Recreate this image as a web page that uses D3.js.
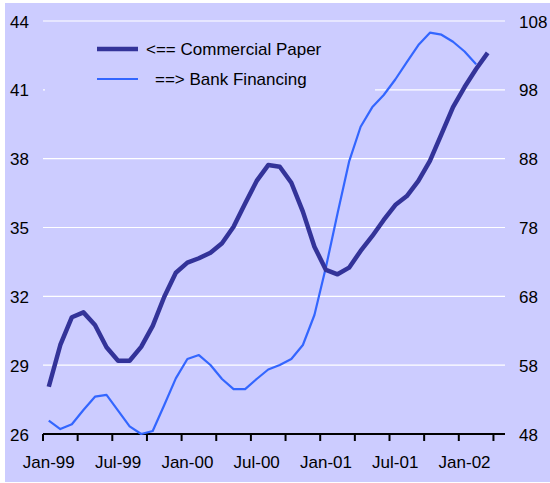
<!DOCTYPE html>
<html>
<head>
<meta charset="utf-8">
<script src="https://cdn.jsdelivr.net/npm/d3@7"></script>
<style>
  html, body { margin: 0; padding: 0; background: #ffffff; }
  svg { display: block; }
  text { font-family: "Liberation Sans", Arial, sans-serif; fill: #000; }
</style>
</head>
<body>
<svg id="chart" width="550" height="483"></svg>
<script>
// Monthly categories, Jan-99 through Apr-02
const months = [
  "Jan-99","Feb-99","Mar-99","Apr-99","May-99","Jun-99","Jul-99","Aug-99","Sep-99","Oct-99","Nov-99","Dec-99",
  "Jan-00","Feb-00","Mar-00","Apr-00","May-00","Jun-00","Jul-00","Aug-00","Sep-00","Oct-00","Nov-00","Dec-00",
  "Jan-01","Feb-01","Mar-01","Apr-01","May-01","Jun-01","Jul-01","Aug-01","Sep-01","Oct-01","Nov-01","Dec-01",
  "Jan-02","Feb-02","Mar-02","Apr-02"
];

// Commercial paper (left axis)
const commercialPaper = [
  28.06, 29.88, 31.09, 31.30, 30.75, 29.78, 29.19, 29.19, 29.80, 30.71, 31.98, 33.03,
  33.47, 33.66, 33.90, 34.31, 35.03, 36.05, 37.03, 37.72, 37.65, 36.95, 35.69, 34.16,
  33.15, 32.96, 33.25, 33.98, 34.62, 35.33, 35.98, 36.37, 37.03, 37.90, 39.07, 40.25,
  41.12, 41.91, 42.61
];

// Bank financing (right axis)
const bankFinancing = [
  49.93, 48.72, 49.41, 51.48, 53.42, 53.69, 51.40, 49.12, 48.00, 48.43, 52.21, 56.09,
  58.89, 59.47, 58.02, 55.99, 54.53, 54.53, 55.99, 57.37, 58.02, 58.89, 60.93, 65.29,
  72.26, 80.03, 87.56, 92.64, 95.46, 97.25, 99.50, 102.04, 104.51, 106.30, 106.01, 104.99,
  103.57, 101.71
];

const leftTicks = [26, 29, 32, 35, 38, 41, 44];
const rightTicks = [48, 58, 68, 78, 88, 98, 108];
const xLabels = ["Jan-99","Jul-99","Jan-00","Jul-00","Jan-01","Jul-01","Jan-02"];

const legendItems = [
  { label: "<== Commercial Paper", color: "#333399", width: 4.5, indent: 0 },
  { label: "==> Bank Financing", color: "#3366ff", width: 2.2, indent: 9 }
];

const svg = d3.select("#chart");
const plot = { left: 43, right: 505, top: 21, bottom: 434 };

// Panel background
svg.append("rect")
  .attr("x", 5).attr("y", 3).attr("width", 545).attr("height", 479)
  .attr("fill", "#ccccff");

const x = d3.scaleBand().domain(months).range([plot.left, plot.right]).paddingInner(0).paddingOuter(0);
const yL = d3.scaleLinear().domain([26, 44]).range([plot.bottom, plot.top]);
const yR = d3.scaleLinear().domain([48, 108]).range([plot.bottom, plot.top]);
const cx = m => x(m) + x.bandwidth() / 2;

// Horizontal gridlines
svg.append("g").selectAll("line")
  .data(leftTicks.filter(t => t !== 26))
  .join("line")
  .attr("x1", plot.left).attr("x2", plot.right)
  .attr("y1", d => yL(d)).attr("y2", d => yL(d))
  .attr("stroke", "#ffffff").attr("stroke-width", 1.2);

// Left axis labels
const leftAxis = d3.axisLeft(yL).tickValues(leftTicks).tickSize(0).tickPadding(0).tickFormat(d3.format("d"));
const gL = svg.append("g").attr("transform", `translate(29,0)`).call(leftAxis);
gL.select(".domain").remove();
gL.selectAll("text").attr("font-size", 17).attr("font-family", "Liberation Sans, Arial, sans-serif").attr("dy", "0.36em");

// Right axis labels
const rightAxis = d3.axisRight(yR).tickValues(rightTicks).tickSize(0).tickPadding(0).tickFormat(d3.format("d"));
const gR = svg.append("g").attr("transform", `translate(519,0)`).call(rightAxis);
gR.select(".domain").remove();
gR.selectAll("text").attr("font-size", 17).attr("font-family", "Liberation Sans, Arial, sans-serif").attr("dy", "0.36em");

// Bottom axis: ticks every third month at category boundaries
const boundaries = months.filter((m, i) => i % 3 === 0).map(m => x(m)).concat([]);
const gX = svg.append("g");
gX.append("line")
  .attr("x1", plot.left).attr("x2", plot.right)
  .attr("y1", plot.bottom).attr("y2", plot.bottom)
  .attr("stroke", "#000").attr("stroke-width", 2);
gX.selectAll("line.tick")
  .data(boundaries)
  .join("line").attr("class", "tick")
  .attr("x1", d => d).attr("x2", d => d)
  .attr("y1", plot.bottom).attr("y2", plot.bottom + 7)
  .attr("stroke", "#000").attr("stroke-width", 2);
gX.selectAll("text")
  .data(xLabels)
  .join("text")
  .attr("x", d => cx(d)).attr("y", 462)
  .attr("dy", "0.36em")
  .attr("text-anchor", "middle")
  .attr("font-size", 17)
  .text(d => d);

// Legend box (same fill as the panel, sits over the gridline)
const legend = svg.append("g");
legend.append("rect")
  .attr("x", 45).attr("y", 28).attr("width", 330).attr("height", 72)
  .attr("fill", "#ccccff");
legendItems.forEach((d, i) => {
  const ly = 49 + i * 30;
  legend.append("line")
    .attr("x1", 97).attr("x2", 138).attr("y1", ly).attr("y2", ly)
    .attr("stroke", d.color).attr("stroke-width", d.width);
  legend.append("text")
    .attr("x", 146 + d.indent).attr("y", ly).attr("dy", "0.36em")
    .attr("font-size", 17)
    .text(d.label);
});

// Series lines
const lineL = d3.line().x((d, i) => cx(months[i])).y(d => yL(d));
const lineR = d3.line().x((d, i) => cx(months[i])).y(d => yR(d));

svg.append("path")
  .datum(bankFinancing)
  .attr("d", lineR)
  .attr("fill", "none")
  .attr("stroke", "#3366ff")
  .attr("stroke-width", 2.2)
  .attr("stroke-linejoin", "round");

svg.append("path")
  .datum(commercialPaper)
  .attr("d", lineL)
  .attr("fill", "none")
  .attr("stroke", "#333399")
  .attr("stroke-width", 4.5)
  .attr("stroke-linejoin", "round");
</script>
</body>
</html>
